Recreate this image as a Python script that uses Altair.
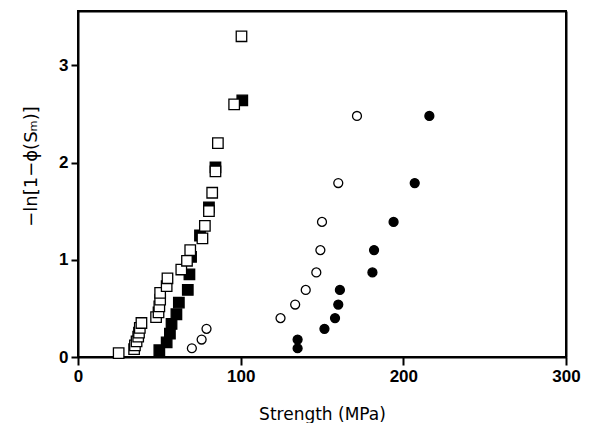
import altair as alt
import pandas as pd

# Open squares
osq_x = [25, 34.5, 35, 36, 37, 37.5, 38, 39, 48, 49.5, 50, 50.5, 50.5, 54.5, 55, 63.5, 67, 69, 76.5, 78, 80.5, 82.5, 84.5, 86, 96, 100.5]
osq_y = [0.04, 0.08, 0.12, 0.16, 0.21, 0.25, 0.30, 0.35, 0.41, 0.46, 0.52, 0.59, 0.66, 0.73, 0.81, 0.90, 0.99, 1.10, 1.22, 1.35, 1.50, 1.69, 1.91, 2.20, 2.60, 3.30]
# Filled squares
fsq_x = [50, 54.5, 56.5, 57.5, 60.5, 62, 67.5, 68.5, 69.5, 75, 80.5, 84.5, 101]
fsq_y = [0.07, 0.15, 0.24, 0.34, 0.44, 0.56, 0.69, 0.85, 1.03, 1.25, 1.54, 1.95, 2.64]
# Open circles
oc_x = [70, 76, 79, 124.5, 133.5, 140, 146.5, 149, 150, 160, 171.5]
oc_y = [0.09, 0.18, 0.29, 0.40, 0.54, 0.69, 0.87, 1.10, 1.39, 1.79, 2.48]
# Filled circles
fc_x = [135, 135, 151.5, 158, 160, 161, 181, 182, 194, 207, 216]
fc_y = [0.09, 0.18, 0.29, 0.40, 0.54, 0.69, 0.87, 1.10, 1.39, 1.79, 2.48]

x_ticks = [0, 100, 200, 300]
y_ticks = [0, 1, 2, 3]
x_max = 300
y_max = 3.56

xscale = alt.Scale(domain=[0, x_max], nice=False, zero=False)
yscale = alt.Scale(domain=[0, y_max], nice=False, zero=False)

xaxis = alt.Axis(values=x_ticks, grid=False, title="Strength (MPa)", format="d",
                 tickSize=8, tickWidth=2, domainWidth=2, domainColor="black", tickColor="black",
                 labelFont="Liberation Sans", labelFontWeight="bold", labelFontSize=17, labelColor="black",
                 labelPadding=3, labelFlush=False,
                 titleFont="DejaVu Sans", titleFontWeight="normal", titleFontSize=17,
                 titleColor="black", titlePadding=22)
yaxis = alt.Axis(values=y_ticks, grid=False, title="−ln[1−ϕ(Sₘ)]", format="d",
                 tickSize=7, tickWidth=2, domainWidth=2, domainColor="black", tickColor="black",
                 labelFont="Liberation Sans", labelFontWeight="bold", labelFontSize=17, labelColor="black",
                 labelPadding=3, labelFlush=False,
                 titleFont="DejaVu Sans", titleFontWeight="normal", titleFontSize=18,
                 titleColor="black", titleX=-38, titleY=155)

# frame axes (top and right): domain line only
xaxis_top = alt.Axis(orient="top", labels=False, ticks=False, grid=False, title="",
                     domainWidth=2, domainColor="black")
yaxis_right = alt.Axis(orient="right", labels=False, ticks=False, grid=False, title="",
                       domainWidth=2, domainColor="black")


def pts(xs, ys, shape, fill, size, xa=xaxis, ya=yaxis, op=1):
    df = pd.DataFrame({"x": xs, "y": ys})
    return alt.Chart(df).mark_point(shape=shape, filled=True, fill=fill, stroke="black",
                                    strokeWidth=1.3, size=size, opacity=op, fillOpacity=1).encode(
        x=alt.X("x:Q", scale=xscale, axis=xa),
        y=alt.Y("y:Q", scale=yscale, axis=ya),
    )


base = alt.layer(
    pts(fc_x, fc_y, "circle", "black", 80),
    pts(oc_x, oc_y, "circle", "white", 80),
    pts(fsq_x, fsq_y, "square", "black", 110),
    pts(osq_x, osq_y, "square", "white", 110),
)
frame_layer = pts(fc_x, fc_y, "circle", "black", 80, xa=xaxis_top, ya=yaxis_right, op=0)

chart = alt.layer(base, frame_layer).resolve_axis(x="independent", y="independent").properties(
    width=488, height=346,
    autosize=alt.AutoSizeParams(type="none"),
    padding={"left": 70, "top": 3, "right": 22, "bottom": 66},
).configure_view(stroke="#000000", strokeWidth=2)

chart.save("out.html", embed_options={"renderer": "svg", "actions": False})
